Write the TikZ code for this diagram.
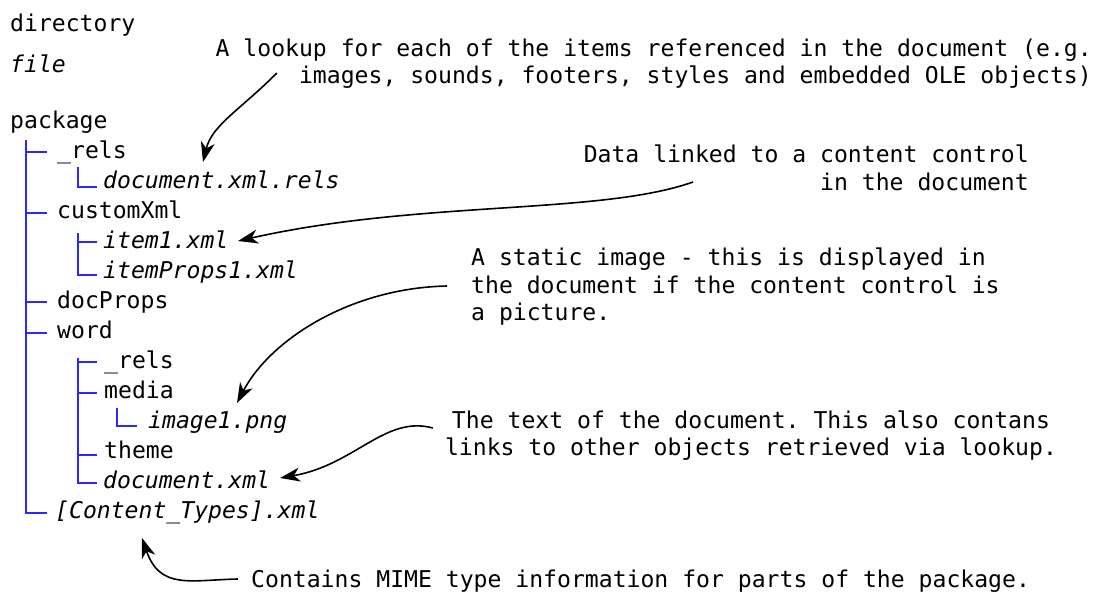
\documentclass[tikz,border=0pt]{standalone}
\usepackage{fontspec}
\setmonofont{DejaVu Sans Mono}[ItalicFont={DejaVu Sans Mono Oblique}]
\usetikzlibrary{arrows.meta}
\definecolor{treeblue}{RGB}{40,40,255}
\begin{document}
\begin{tikzpicture}[x=1pt,y=-1pt,
  lbl/.style={font=\ttfamily\fontsize{23.1}{27}\selectfont, inner sep=0pt, anchor=base west, text=black},
  fname/.style={lbl, font=\ttfamily\itshape\fontsize{23.1}{27}\selectfont},
  note/.style={lbl},
  tree/.style={draw=treeblue, line width=2pt},
  arr/.style={-{Stealth[length=20pt,width=14pt,inset=6pt]}, line width=1.6pt, black}]
\useasboundingbox (0,0) rectangle (1100,594);

% legend
\node[lbl]   (dir)  at (10,32)  {directory};
\node[fname] (fil)  at (10,72)  {file};

% package tree
\node[lbl]   (package) at (10,128)  {package};
\node[lbl]   (rels)    at (57,158)  {\_rels};
\node[fname] (docrels) at (103,188) {document.xml.rels};
\node[lbl]   (cxml)    at (57,218)  {customXml};
\node[fname] (item1)   at (103,248) {item1.xml};
\node[fname] (iprops)  at (103,278) {itemProps1.xml};
\node[lbl]   (dprops)  at (57,308)  {docProps};
\node[lbl]   (word)    at (57,338)  {word};
\node[lbl]   (wrels)   at (104,368) {\_rels};
\node[lbl]   (media)   at (104,398) {media};
\node[fname] (image1)  at (148,428) {image1.png};
\node[lbl]   (theme)   at (104,458) {theme};
\node[fname] (docxml)  at (103,488) {document.xml};
\node[fname] (ctypes)  at (55,518)  {[Content\_Types].xml};

% tree branches
\draw[tree] ([shift={(16,12)}]package.base west) |- ([shift={(-8,-5)}]ctypes.base west);
\draw[tree] ([shift={(-10,-6)}]rels.base west)   -- ++(-21,0);
\draw[tree] ([shift={(-10,-5)}]cxml.base west)   -- ++(-21,0);
\draw[tree] ([shift={(-10,-6)}]dprops.base west) -- ++(-21,0);
\draw[tree] ([shift={(-10,-5)}]word.base west)   -- ++(-21,0);

\draw[tree] ([shift={(21,9)}]rels.base west)  |- ([shift={(-6,-1)}]docrels.base west);
\draw[tree] ([shift={(21,15)}]cxml.base west) |- ([shift={(-6,-3)}]iprops.base west);
\draw[tree] ([shift={(-6,-6)}]item1.base west) -- ++(-19,0);
\draw[tree] ([shift={(21,20)}]word.base west) |- ([shift={(-6,-5)}]docxml.base west);
\draw[tree] ([shift={(-7,-6)}]wrels.base west) -- ++(-19,0);
\draw[tree] ([shift={(-7,-5)}]media.base west) -- ++(-19,0);
\draw[tree] ([shift={(-7,-3)}]theme.base west) -- ++(-19,0);
\draw[tree] ([shift={(13,10)}]media.base west) |- ([shift={(-11,-2)}]image1.base west);

% notes
\node[note, anchor=base east] (lk1) at (1092,57) {A lookup for each of the items referenced in the document (e.g.};
\node[note, anchor=base east] (lk2) at (1092,83) {images, sounds, footers, styles and embedded OLE objects)};
\node[note, anchor=base east] (dl1) at (1029,162) {Data linked to a content control};
\node[note, anchor=base east] (dl2) at (1029,190) {in the document};
\node[note] (st1) at (471,265.5) {A static image - this is displayed in};
\node[note] (st2) at (471,293) {the document if the content control is};
\node[note] (st3) at (471,320.5) {a picture.};
\node[note, anchor=base] (tx1) at (751,428) {The text of the document. This also contans};
\node[note, anchor=base] (tx2) at (751,455) {links to other objects retrieved via lookup.};
\node[note] (mm) at (251,587) {Contains MIME type information for parts of the package.};

% pointers
\coordinate (p1) at ([shift={(-22,-10)}]lk2.base west);
\coordinate (p2) at ([shift={(-127,-8)}]dl2.base west);
\coordinate (p3) at ([shift={(-24,-7)}]st2.base west);
\coordinate (p4) at ([shift={(-19,0)}]tx1.base west);
\coordinate (p5) at ([shift={(-13,-8)}]mm.base west);

\draw[arr] (p1) .. controls (240,110) and (212,125) .. ([shift={(100,-26)}]docrels.base west);
\draw[arr] (p2) .. controls (600,215) and (420,200) .. ([shift={(135,-7)}]item1.base west);
\draw[arr] (p3) .. controls (350,288) and (270,340) .. ([shift={(89,-25)}]image1.base west);
\draw[arr] (p4) .. controls (385,415) and (355,465) .. ([shift={(177,-10)}]docxml.base west);
\draw[arr] (p5) .. controls (190,580) and (160,590) .. ([shift={(87,20)}]ctypes.base west);
\end{tikzpicture}
\end{document}
